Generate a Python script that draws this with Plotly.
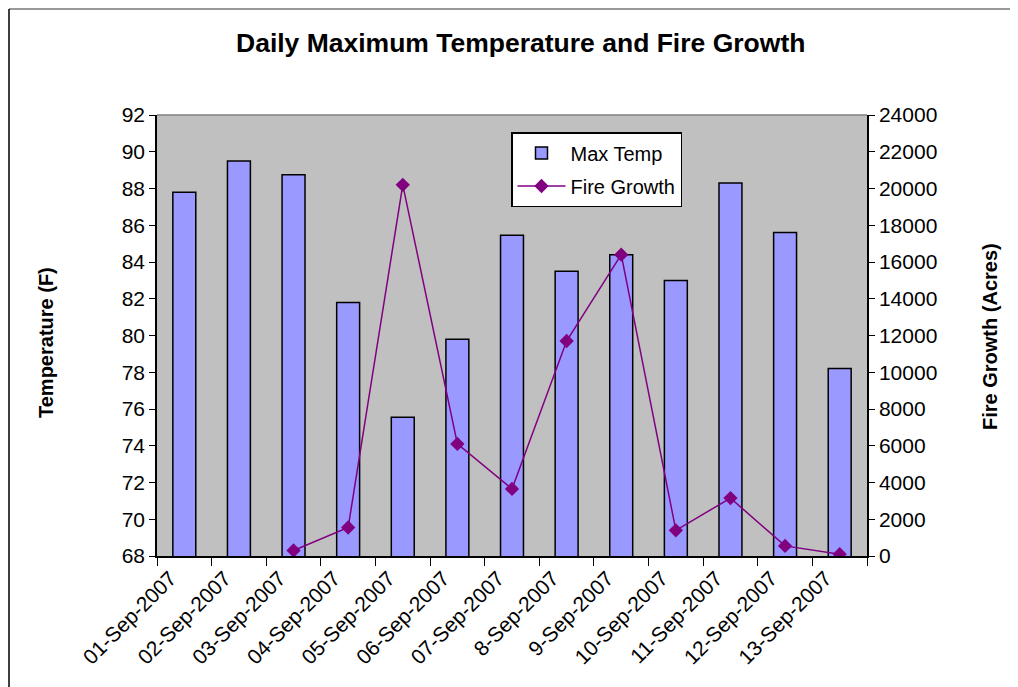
import plotly.graph_objects as go

dates = ["01-Sep-2007", "02-Sep-2007", "03-Sep-2007", "04-Sep-2007", "05-Sep-2007",
         "06-Sep-2007", "07-Sep-2007", "8-Sep-2007", "9-Sep-2007", "10-Sep-2007",
         "11-Sep-2007", "12-Sep-2007", "13-Sep-2007"]
max_temp = [87.8, 89.5, 88.75, 81.8, 75.55, 79.8, 85.45, 83.5, 84.4, 83.0, 88.3, 85.6, 78.2]
fire_growth = [None, None, 300, 1550, 20200, 6100, 3650, 11700, 16400, 1400, 3150, 550, 100]

# page is rendered with an 8px body margin; compensate
OFF = 8
PW, PH = 1018, 687
L, R, T, B = 157, 867, 115, 556

def px(x):
    return (x - L) / (R - L)

def py(y):
    return (B - y) / (B - T)

FONT = "Liberation Sans, Arial, sans-serif"

fig = go.Figure()
fig.add_trace(go.Bar(
    x=dates, y=max_temp, name="Max Temp", legendgroup="a",
    marker=dict(color="#9999FF", line=dict(color="black", width=1.5)),
    yaxis="y",
))
fig.add_trace(go.Scatter(
    x=dates, y=fire_growth, name="Fire Growth", mode="lines+markers", legendgroup="b",
    line=dict(color="#800080", width=1.5),
    marker=dict(symbol="diamond", size=11, color="#800080"),
    yaxis="y2", connectgaps=False,
))

fig.update_layout(
    width=PW - OFF, height=PH - OFF,
    margin=dict(l=L - OFF, r=PW - R, t=T - OFF, b=PH - B, pad=0),
    paper_bgcolor="white", plot_bgcolor="#C0C0C0",
    font=dict(family=FONT, size=21, color="black"),
    bargap=0.58,
    showlegend=True,
    legend=dict(
        x=px(511), y=py(132), xanchor="left", yanchor="top",
        bgcolor="white", bordercolor="black", borderwidth=1.5,
        font=dict(size=20, family=FONT),
        tracegroupgap=4, itemwidth=48,
    ),
    xaxis=dict(
        type="category", range=[-0.5, 12.5], tickangle=-45, tickson="boundaries",
        ticks="outside", ticklen=8, tickcolor="black", tickwidth=1,
        showline=True, linecolor="black", linewidth=1.5,
        showgrid=False, zeroline=False, automargin=False,
        tickfont=dict(size=21), ticklabelshift=-14,
    ),
    yaxis=dict(
        range=[68, 92], dtick=2, ticks="outside", ticklen=6, tickcolor="black",
        showline=True, linecolor="black", linewidth=1.5,
        showgrid=False, zeroline=False, automargin=False,
        tickfont=dict(size=21),
    ),
    yaxis2=dict(
        range=[0, 24000], dtick=2000, tickformat="d", overlaying="y", side="right",
        ticks="outside", ticklen=6, tickcolor="black",
        showline=True, linecolor="black", linewidth=1.5,
        showgrid=False, zeroline=False, automargin=False,
        tickfont=dict(size=21),
    ),
    annotations=[
        dict(text="<b>Daily Maximum Temperature and Fire Growth</b>",
             x=px(520), y=py(43), xref="paper", yref="paper",
             showarrow=False, font=dict(size=26.5, family=FONT),
             xanchor="center", yanchor="middle"),
        dict(text="<b>Temperature (F)</b>",
             x=px(46), y=py(342), xref="paper", yref="paper",
             showarrow=False, textangle=-90, font=dict(size=20, family=FONT),
             xanchor="center", yanchor="middle"),
        dict(text="<b>Fire Growth (Acres)</b>",
             x=px(990), y=py(337), xref="paper", yref="paper",
             showarrow=False, textangle=-90, font=dict(size=20, family=FONT),
             xanchor="center", yanchor="middle"),
    ],
    shapes=[
        dict(type="line", xref="paper", yref="paper",
             x0=0, x1=1, y0=1, y1=1, line=dict(color="#808080", width=1.5)),
        dict(type="line", xref="paper", yref="paper",
             x0=px(9), x1=px(1018), y0=py(9), y1=py(9), line=dict(color="#999999", width=2)),
        dict(type="line", xref="paper", yref="paper",
             x0=px(9), x1=px(9), y0=py(9), y1=py(687), line=dict(color="black", width=1.5)),
    ],
)

fig.write_html("out.html")
